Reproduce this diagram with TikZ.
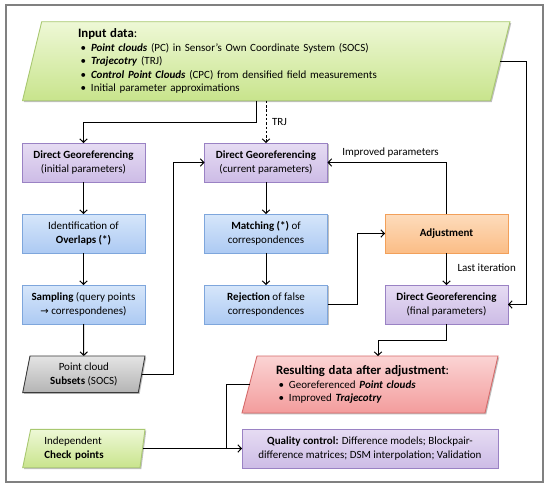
\documentclass[tikz,border=0pt]{standalone}
\usepackage{fontspec}
\setmainfont{Carlito}
\newfontfamily\dejavu{DejaVu Sans}
\usetikzlibrary{arrows.meta,shadows,calc}
\pgfdeclarelayer{background}
\pgfsetlayers{background,main}
\definecolor{gT}{HTML}{EEF8D6}
\definecolor{gB}{HTML}{C8E48C}
\definecolor{gBd}{HTML}{A8C870}
\definecolor{pT}{HTML}{E6DCF3}
\definecolor{pB}{HTML}{CDBCE6}
\definecolor{pBd}{HTML}{9A82C4}
\definecolor{bT}{HTML}{D6E6FA}
\definecolor{bB}{HTML}{ADCAF3}
\definecolor{bBd}{HTML}{7EA6DC}
\definecolor{oT}{HTML}{FDDCBC}
\definecolor{oB}{HTML}{FBBD86}
\definecolor{oBd}{HTML}{F2A05A}
\definecolor{kT}{HTML}{E4E4E4}
\definecolor{kB}{HTML}{B4B4B4}
\definecolor{kBd}{HTML}{3A3A3A}
\definecolor{rT}{HTML}{FBD4D4}
\definecolor{rB}{HTML}{F39C9C}
\definecolor{rBd}{HTML}{D46A6A}
\tikzset{
  every node/.style={outer sep=0pt},
  shadowed/.style={drop shadow={shadow xshift=1.3pt,shadow yshift=-1.3pt,opacity=0.25,fill=black}},
  bx/.style={rectangle, line width=0.9pt, minimum width=123pt, minimum height=39pt,
    inner sep=1pt, align=center, font=\fontsize{11}{14.2}\selectfont, shadowed},
  pbx/.style={bx, draw=pBd, top color=pT, bottom color=pB},
  bbx/.style={bx, draw=bBd, top color=bT, bottom color=bB},
  obx/.style={bx, draw=oBd, top color=oT, bottom color=oB},
  ptxt/.style={rectangle, inner ysep=0pt, font=\fontsize{11}{13.5}\selectfont},
  gshape/.style={draw=gBd, line width=0.9pt, top color=gT, bottom color=gB, shadowed},
  kshape/.style={draw=kBd, line width=0.9pt, top color=kT, bottom color=kB, shadowed},
  rshape/.style={draw=rBd, line width=0.9pt, top color=rT, bottom color=rB, shadowed},
  arr/.style={line width=1pt, -{Straight Barb[length=3.5pt,width=7.5pt]}},
  conn/.style={line width=1pt},
  lbl/.style={font=\fontsize{11}{13}\selectfont, inner sep=0pt},
}
\newcommand{\bul}[1]{\hspace*{2.5pt}\makebox[10.5pt][l]{\textbullet}#1}
\begin{document}
\begin{tikzpicture}[x=1pt,y=-1pt]
\useasboundingbox (0,0) rectangle (550,490);
\draw[line width=1.5pt, black!50] (6,5) rectangle (543,482);

% Input data
\node[ptxt, minimum width=487.5pt, minimum height=79pt, inner xsep=55.5pt,
  text width=376.5pt, align=left, font=\fontsize{11}{13.5}\selectfont] (inp) at (266.25,61.2)
  {{\fontsize{12.8}{14}\selectfont\textbf{Input data}:}\\
   \bul{\textbf{\textit{Point clouds}} (PC) in Sensor’s Own Coordinate System (SOCS)}\\
   \bul{\textbf{\textit{Trajecotry}} (TRJ)}\\
   \bul{\textbf{\textit{Control Point Clouds}} (CPC) from densified field measurements}\\
   \bul{Initial parameter approximations}};

% Boxes
\node[pbx] (dg1) at (83.5,162.5) {\textbf{Direct Georeferencing}\\(initial parameters)};
\node[bbx] (id) at (83.5,233.5) {Identification of\\\textbf{Overlaps (*)}};
\node[bbx] (samp) at (83.5,304.5) {\textbf{Sampling} (query points\\{\dejavu\fontsize{10}{14}\selectfont →} correspondenes)};
\node[pbx] (dg2) at (266,162.5) {\textbf{Direct Georeferencing}\\(current parameters)};
\node[bbx] (match) at (266,233.5) {\textbf{Matching (*)} of\\correspondences};
\node[bbx] (rej) at (266,304.5) {\textbf{Rejection} of false\\correspondences};
\node[obx] (adj) at (446.5,233.5) {\textbf{Adjustment}};
\node[pbx, minimum width=256pt, font=\fontsize{11}{13.8}\selectfont] (qc) at (370,448.5)
  {\textbf{Quality control:} Difference models; Blockpair-\\difference matrices; DSM interpolation; Validation};
\node[pbx] (dg3) at (446.5,304.5) {\textbf{Direct Georeferencing}\\(final parameters)};

% Parallelogram texts
\node[ptxt, minimum width=122.3pt, minimum height=36.7pt, align=center] (sub) at (83.85,374.3)
  {Point cloud\\\textbf{Subsets} (SOCS)};
\node[ptxt, minimum width=122.3pt, minimum height=38.4pt, inner xsep=21.6pt, text width=79pt, align=left] (chk) at (83.85,448.5)
  {Independent\\\textbf{Check points}};
\node[ptxt, minimum width=256pt, minimum height=57pt, inner xsep=34pt, text width=188pt, align=left,
  font=\fontsize{11}{13.5}\selectfont] (res) at (370,384.5)
  {{\fontsize{12.8}{14}\selectfont\textbf{Resulting data after adjustment}:}\\
   \bul{Georeferenced \textbf{\textit{Point clouds}}}\\
   \bul{Improved \textbf{\textit{Trajecotry}}}};

\begin{pgfonlayer}{background}
\path[gshape] ($(inp.north west)+(19.2,0)$) -- (inp.north east) -- ($(inp.south east)+(-19.5,0)$) -- (inp.south west) -- cycle;
\path[kshape] ($(sub.north west)+(7.3,0)$) -- (sub.north east) -- ($(sub.south east)+(-6.7,0)$) -- (sub.south west) -- cycle;
\path[gshape] ($(chk.north west)+(8,0)$) -- (chk.north east) -- ($(chk.south east)+(-5,0)$) -- (chk.south west) -- cycle;
\path[rshape] ($(res.north west)+(15,0)$) -- (res.north east) -- ($(res.south east)+(-13,0)$) -- (res.south west) -- cycle;
\end{pgfonlayer}

% Bend points
\coordinate (bInp) at (526.7,61.2);
\coordinate (bSub) at (173,374.3);
\coordinate (bRej) at (357,304.5);
\coordinate (bDg3) at (446.5,340);
\coordinate (bRes) at (226,384.5);
\coordinate (bJoin) at (226,448.5);

% Connectors
\draw[arr] ([xshift=-9.5pt]inp.south -| dg2.north) -- ++(0,22) -| (dg1.north);
\draw[arr, dash pattern=on 2.5pt off 1.8pt] (inp.south -| dg2.north) -- (dg2.north);
\node[lbl, anchor=west] (trj) at (272,122) {TRJ};
\draw[arr] ([xshift=-9.7pt]inp.east) -- (bInp) |- (dg3.east);
\draw[arr] (dg1) -- (id);
\draw[arr] (id) -- (samp);
\draw[arr] (samp) -- (sub);
\draw[arr] ([xshift=-3.5pt]sub.east) -- (bSub) |- (dg2.west);
\draw[arr] (dg2) -- (match);
\draw[arr] (match) -- (rej);
\draw[arr] (rej.east) -- (bRej) |- (adj.west);
\draw[arr] (adj.north) |- (dg2.east);
\node[lbl] (imp) at (390.5,152.5) {Improved parameters};
\draw[arr] (adj) -- (dg3);
\node[lbl, anchor=west] (last) at (457.5,268) {Last iteration};
\draw[arr] (dg3.south) -- (bDg3) -| ([xshift=8pt]res.north);
\draw[arr] ([xshift=-2.5pt]chk.east) -- (qc.west);
\draw[conn] ([xshift=7.5pt]res.west) -- (bRes) -- (bJoin);
\end{tikzpicture}
\end{document}
